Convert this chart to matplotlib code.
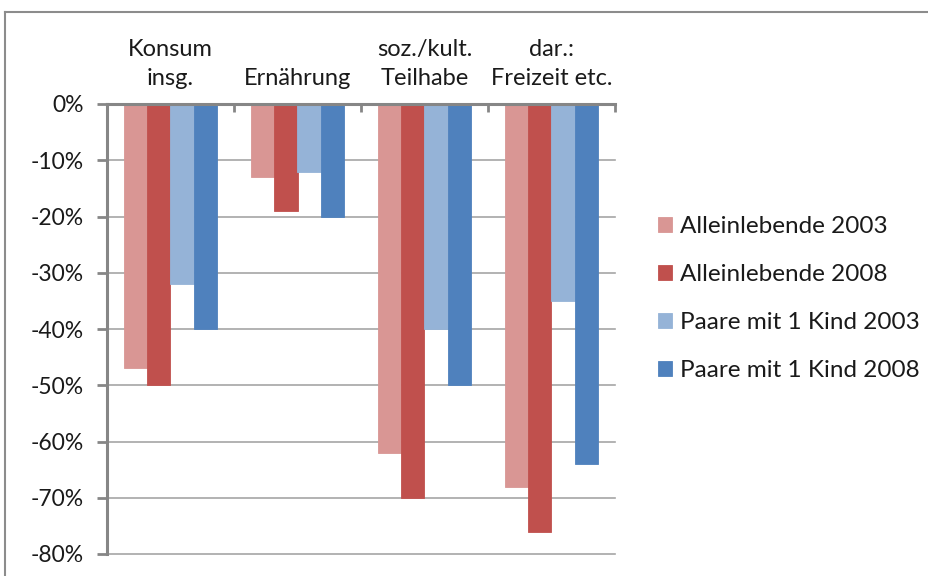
import matplotlib
matplotlib.use("Agg")
import matplotlib.pyplot as plt
from matplotlib.lines import Line2D
from matplotlib.ticker import FuncFormatter, FixedLocator
import numpy as np

categories = ["Konsum\ninsg.", "Ernährung", "soz./kult.\nTeilhabe", "dar.:\nFreizeit etc."]
series_names = ["Alleinlebende 2003", "Alleinlebende 2008",
                "Paare mit 1 Kind 2003", "Paare mit 1 Kind 2008"]
alleinlebende_2003 = [-0.47, -0.13, -0.62, -0.68]
alleinlebende_2008 = [-0.50, -0.19, -0.70, -0.76]
paare_2003 = [-0.32, -0.12, -0.40, -0.35]
paare_2008 = [-0.40, -0.20, -0.50, -0.64]
y_ticks = [0, -0.1, -0.2, -0.3, -0.4, -0.5, -0.6, -0.7, -0.8]

colors = ["#D99694", "#C0504D", "#95B3D7", "#4F81BD"]
series = [alleinlebende_2003, alleinlebende_2008, paare_2003, paare_2008]

plt.rcParams['font.family'] = ['Lato', 'DejaVu Sans']

W, H = 929, 576
fig = plt.figure(figsize=(W / 100, H / 100), dpi=100)
fig.patch.set_facecolor("white")

# outer chart frame (cropped at right and bottom)
frame_col = "#8c8c8c"
fig.add_artist(Line2D([5 / W, 1.0], [1 - 12 / H, 1 - 12 / H], transform=fig.transFigure,
                      color=frame_col, lw=1.5))
fig.add_artist(Line2D([5 / W, 5 / W], [1 - 12 / H, 0], transform=fig.transFigure,
                      color=frame_col, lw=1.5))

ax = fig.add_axes([107 / W, 1 - 554 / H, (615 - 107) / W, (554 - 104) / H])

n = len(series)
x = np.arange(len(categories))
bw = 1 / (n + 1.5)
for i, (vals, col, name) in enumerate(zip(series, colors, series_names)):
    offs = (i - (n - 1) / 2) * bw
    ax.bar(x + offs, vals, width=bw, color=col, edgecolor=col, linewidth=0.6,
           label=name, zorder=3)

ax.set_xlim(-0.5, len(categories) - 0.5)
ax.set_ylim(-0.8, 0)
ax.yaxis.set_major_locator(FixedLocator(y_ticks))
ax.yaxis.set_major_formatter(FuncFormatter(lambda v, p: f"{round(v * 100):d}%"))
ax.grid(axis='y', color="#a6a6a6", lw=1.2, zorder=0)
ax.set_axisbelow(True)
for gl in ax.get_ygridlines():
    gl.set_clip_on(False)

for s in ["right", "bottom"]:
    ax.spines[s].set_visible(False)
axis_col = "#868686"
ax.spines["left"].set_color(axis_col)
ax.spines["left"].set_linewidth(2.2)
ax.spines["top"].set_color(axis_col)
ax.spines["top"].set_linewidth(2.2)
ax.spines["top"].set_zorder(5)

ax.tick_params(axis='y', direction='out', length=7, width=2, color=axis_col,
               labelsize=16.5, pad=10, labelcolor="#1a1a1a")

ax.xaxis.tick_top()
ax.set_xticks(np.arange(-0.5, len(categories), 1.0), minor=True)
ax.set_xticks(x)
ax.set_xticklabels(categories, fontsize=17, color="#1a1a1a", linespacing=1.45)
ax.tick_params(axis='x', which='major', length=0, pad=11)
ax.tick_params(axis='x', which='minor', direction='in', length=6, width=2, color=axis_col)

leg = fig.legend(loc="upper left", bbox_to_anchor=(648 / W, 1 - 206 / H),
                 frameon=False, fontsize=17.5, handlelength=0.58, handleheight=0.58,
                 handletextpad=0.33, labelspacing=1.12, borderaxespad=0)
for t in leg.get_texts():
    t.set_color("#1a1a1a")

fig.savefig("out.png", dpi=100)
